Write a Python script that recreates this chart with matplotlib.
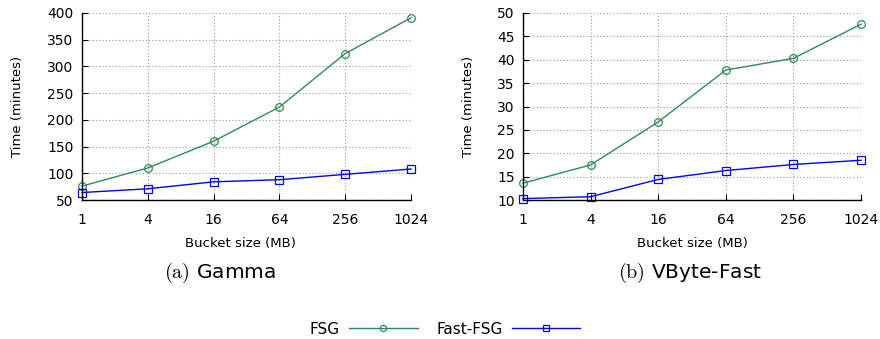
import matplotlib
matplotlib.use('Agg')
import matplotlib.pyplot as plt
from matplotlib.lines import Line2D

# bucket sizes (MB)
sizes = [1, 4, 16, 64, 256, 1024]
size_labels = ['1', '4', '16', '64', '256', '1024']

# Gamma
gamma_fsg = [76, 110, 160, 224, 324, 391]
gamma_fast = [64, 71, 84, 88, 98, 108]

# VByte-Fast
vbyte_fsg = [13.6, 17.5, 26.7, 37.8, 40.3, 47.6]
vbyte_fast = [10.3, 10.7, 14.4, 16.3, 17.6, 18.5]

green = '#2e8b57'
blue = '#0000ff'

plt.rcParams['mathtext.fontset'] = 'cm'

W, H = 880, 339
fig = plt.figure(figsize=(W / 100, H / 100), dpi=100)


def px(x, y):
    return x / W, 1 - y / H


def make_axes(x0, x1, y0, y1):
    return fig.add_axes([x0 / W, 1 - y1 / H, (x1 - x0) / W, (y1 - y0) / H])


def style(ax, ylim, yticks):
    ax.set_xscale('log', base=2)
    ax.set_xlim(1, 1024)
    ax.set_xticks(sizes)
    ax.set_xticklabels(size_labels)
    ax.minorticks_off()
    ax.set_ylim(*ylim)
    ax.set_yticks(yticks)
    for s in ['top', 'right']:
        ax.spines[s].set_visible(False)
    for s in ['left', 'bottom']:
        ax.spines[s].set_linewidth(1.0)
    ax.tick_params(direction='in', length=4, labelsize=10)
    ax.tick_params(axis='x', pad=9)
    ax.tick_params(axis='y', pad=6)
    ax.grid(True, linestyle=(0, (1, 2)), color='#999999', linewidth=0.8)
    ax.set_axisbelow(True)


ax1 = make_axes(82, 411, 13, 200)
ax1.plot(sizes, gamma_fsg, color=green, lw=1, marker='o', ms=5.5, mfc='none', mew=0.9, clip_on=False)
ax1.plot(sizes, gamma_fast, color=blue, lw=1, marker='s', ms=5.5, mfc='none', mew=0.9, clip_on=False)
style(ax1, (50, 400), range(50, 401, 50))

ax2 = make_axes(523, 861, 13, 200)
ax2.plot(sizes, vbyte_fsg, color=green, lw=1, marker='o', ms=5.5, mfc='none', mew=0.9, clip_on=False)
ax2.plot(sizes, vbyte_fast, color=blue, lw=1, marker='s', ms=5.5, mfc='none', mew=0.9, clip_on=False)
style(ax2, (10, 50), range(10, 51, 5))

# axis labels
fig.text(*px(240, 243), 'Bucket size (MB)', ha='center', va='center', fontsize=9.5)
fig.text(*px(692, 243), 'Bucket size (MB)', ha='center', va='center', fontsize=9.5)
fig.text(*px(18, 106), 'Time (minutes)', ha='center', va='center', rotation=90, fontsize=9.5)
fig.text(*px(468, 106), 'Time (minutes)', ha='center', va='center', rotation=90, fontsize=9.5)

# captions
fig.text(*px(220, 273), r'$\mathrm{(a)}$ Gamma', ha='center', va='center', fontsize=14.5)
fig.text(*px(690, 273), r'$\mathrm{(b)}$ VByte-Fast', ha='center', va='center', fontsize=14.5)

# legend
handles = [
    Line2D([], [], color=green, lw=1, marker='o', ms=4.5, mfc='none', mew=0.9),
    Line2D([], [], color=blue, lw=1, marker='s', ms=4.5, mfc='none', mew=0.9),
]
fig.legend(handles, ['FSG', 'Fast-FSG'], loc='center', bbox_to_anchor=px(445, 329),
           ncol=2, frameon=False, fontsize=11, markerfirst=False,
           handlelength=4.5, columnspacing=1.2, handletextpad=0.6)

fig.savefig('out.png', dpi=100)
